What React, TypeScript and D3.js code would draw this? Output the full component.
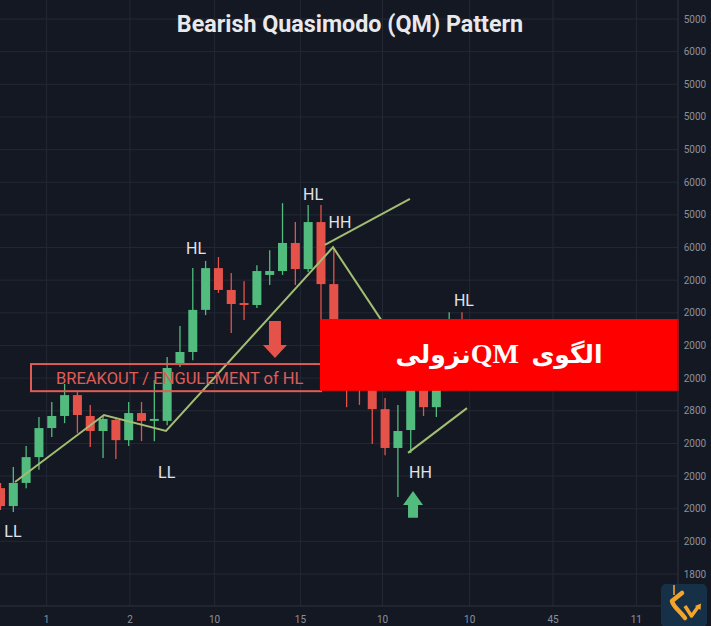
import * as d3 from "d3";

const WIDTH = 711;
const HEIGHT = 626;

// candles, one per bar (price units of the hidden scale)
const opens = [2063, 2008, 2079, 2158, 2247, 2284, 2348, 2284, 2238, 2272, 2210, 2293, 2269, 2269, 2446, 2480, 2609, 2737, 2670, 2630, 2624, 2716, 2728, 2814, 2734, 2878, 2688, 2532, 2419, 2385, 2305, 2186, 2241, 2379, 2311, 2379, 2532];
const highs = [2079, 2128, 2192, 2281, 2327, 2382, 2357, 2318, 2287, 2281, 2327, 2327, 2394, 2465, 2560, 2737, 2759, 2771, 2722, 2697, 2746, 2792, 2936, 2878, 2930, 2930, 2798, 2563, 2455, 2409, 2339, 2318, 2455, 2425, 2409, 2602, 2602];
const lows = [1996, 1990, 2063, 2119, 2220, 2262, 2232, 2189, 2155, 2152, 2192, 2207, 2207, 2256, 2434, 2455, 2593, 2661, 2538, 2578, 2615, 2685, 2716, 2685, 2725, 2572, 2501, 2311, 2318, 2198, 2164, 2036, 2171, 2284, 2281, 2370, 2394];
const closes = [2008, 2079, 2158, 2247, 2284, 2348, 2287, 2238, 2275, 2210, 2293, 2269, 2275, 2431, 2480, 2609, 2737, 2670, 2627, 2624, 2728, 2728, 2814, 2734, 2878, 2688, 2532, 2409, 2376, 2305, 2186, 2238, 2419, 2311, 2379, 2517, 2455];

// axis ticks
const priceTicks = d3.range(3500, 1799, -100);
const priceLabels = ["5000", "6000", "5000", "5000", "5000", "6000", "5000", "6000", "2000", "2000", "2000", "2000", "2800", "2000", "2000", "2000", "2000", "1800"];
const timeTicks = [3.6, 10.1, 16.7, 23.4, 29.8, 36.6, 43.1, 49.6];
const timeLabels = ["1", "2", "10", "15", "10", "10", "45", "11"];

// drawn trend lines: [bar index, price]
const riseLine: [number, number][] = [[1.13, 2082], [8.07, 2287], [12.91, 2238], [25.94, 2801], [31.0, 2501]];
const upperLine: [number, number][] = [[25.3, 2808], [31.94, 2949]];
const lowerLine: [number, number][] = [[31.79, 2171], [36.39, 2308]];

// swing labels
const swingText = ["LL", "LL", "HL", "HL", "HH", "HL", "HH"];
const swingIdx = [0.97, 12.96, 15.25, 24.38, 26.48, 36.15, 32.76];
const swingPrice = [1929, 2112, 2798, 2964, 2878, 2639, 2112];

const COLORS = {
  bg: "#141823",
  grid: "#232835",
  axis: "#2e3340",
  tick: "#8c909b",
  up: "#51bc7d",
  down: "#e5524a",
  trend: "#a3bd72",
  label: "#e1e3ea",
  breakout: "#e05d57",
};

const x = d3.scaleLinear().domain([0, 52.85]).range([0.5, 678]);
const y = d3.scaleLinear().domain([1800, 3500]).range([574, 19]);
const trend = d3
  .line<[number, number]>()
  .x((d) => x(d[0]))
  .y((d) => y(d[1]));

const PLOT_RIGHT = 678;
const PLOT_BOTTOM = 606;
const BANNER_LEFT = 24.92; // bar index where the red banner starts

function Arrow({ idx, from, to, head, shaft, color }) {
  // from = tail price, to = tip price
  const cx = x(idx);
  const y0 = y(from);
  const y1 = y(to);
  const dir = y1 > y0 ? 1 : -1;
  const yh = y1 - dir * head;
  const pts = [
    [cx - shaft / 2, y0],
    [cx + shaft / 2, y0],
    [cx + shaft / 2, yh],
    [cx + shaft, yh],
    [cx, y1],
    [cx - shaft, yh],
    [cx - shaft / 2, yh],
  ];
  return <polygon points={pts.map((p) => p.join(",")).join(" ")} fill={color} />;
}

export default function App() {
  const bw = 9;
  return (
    <div style={{ position: "fixed", left: 0, top: 0 }}>
      <svg width={WIDTH} height={HEIGHT} style={{ display: "block" }}>
        <rect width={WIDTH} height={HEIGHT} fill={COLORS.bg} />

        {/* grid */}
        {priceTicks.map((p) => (
          <line key={"h" + p} x1={0} x2={PLOT_RIGHT} y1={y(p)} y2={y(p)} stroke={COLORS.grid} strokeWidth={1} />
        ))}
        {timeTicks.map((t) => (
          <line key={"v" + t} x1={x(t)} x2={x(t)} y1={0} y2={PLOT_BOTTOM} stroke={COLORS.grid} strokeWidth={1} />
        ))}

        {/* candles */}
        {opens.map((o, i) => {
          const c = closes[i];
          const col = c >= o ? COLORS.up : COLORS.down;
          const cx = x(i);
          const top = y(Math.max(o, c));
          const bot = y(Math.min(o, c));
          return (
            <g key={i}>
              <line x1={cx} x2={cx} y1={y(highs[i])} y2={y(lows[i])} stroke={col} strokeWidth={1.3} />
              <rect x={cx - bw / 2} y={top} width={bw} height={Math.max(1.5, bot - top)} fill={col} />
            </g>
          );
        })}

        {/* trend lines */}
        {[riseLine, upperLine, lowerLine].map((l, k) => (
          <path key={k} d={trend(l)} fill="none" stroke={COLORS.trend} strokeWidth={2} />
        ))}

        {/* breakout box */}
        <rect
          x={x(2.38)}
          y={y(2443)}
          width={x(BANNER_LEFT) + 1 - x(2.38)}
          height={y(2360) - y(2443)}
          fill="none"
          stroke={COLORS.breakout}
          strokeWidth={2}
        />
        <text x={x(4.33)} y={y(2400) + 6} fill={COLORS.breakout} fontFamily="Roboto, sans-serif" fontSize={16.5}>
          BREAKOUT / ENGULEMENT of HL
        </text>

        {/* swing labels */}
        {swingText.map((t, i) => (
          <text
            key={"s" + i}
            x={x(swingIdx[i])}
            y={y(swingPrice[i]) + 5.6}
            textAnchor="middle"
            fill={COLORS.label}
            fontFamily="Roboto, sans-serif"
            fontSize={16}
          >
            {t}
          </text>
        ))}

        {/* arrows */}
        <Arrow idx={21.41} from={2575} to={2462} head={13} shaft={12} color={COLORS.down} />
        <Arrow idx={32.18} from={1972} to={2054} head={14} shaft={10} color={COLORS.up} />

        {/* red banner */}
        <rect
          x={x(BANNER_LEFT)}
          y={y(2581)}
          width={PLOT_RIGHT + 1 - x(BANNER_LEFT)}
          height={y(2361) - y(2581)}
          fill="#ff0000"
        />
        <text
          x={(x(BANNER_LEFT) + PLOT_RIGHT) / 2}
          y={y(2471) + 8}
          textAnchor="middle"
          direction="rtl"
          fill="#ffffff"
          fontFamily="'Liberation Serif', 'DejaVu Sans', serif"
          fontWeight="bold"
          fontSize={25}
        >
          {"الگوی\u00A0\u00A0"}
          <tspan fontSize={28}>QM</tspan>
          {"نزولی"}
        </text>

        {/* axes */}
        <line x1={PLOT_RIGHT} x2={PLOT_RIGHT} y1={0} y2={HEIGHT} stroke={COLORS.axis} strokeWidth={1} />
        <line x1={0} x2={PLOT_RIGHT} y1={PLOT_BOTTOM} y2={PLOT_BOTTOM} stroke={COLORS.axis} strokeWidth={1} />
        {priceTicks.map((p, i) => (
          <text
            key={"pl" + p}
            x={695}
            y={y(p) + 3.5}
            textAnchor="middle"
            fill={COLORS.tick}
            fontFamily="Roboto, sans-serif"
            fontSize={10}
          >
            {priceLabels[i]}
          </text>
        ))}
        {timeTicks.map((t, i) => (
          <text
            key={"tl" + t}
            x={x(t)}
            y={623}
            textAnchor="middle"
            fill={COLORS.tick}
            fontFamily="Roboto, sans-serif"
            fontSize={10}
          >
            {timeLabels[i]}
          </text>
        ))}

        {/* title */}
        <text
          x={350}
          y={32}
          textAnchor="middle"
          fill="#e8e9ec"
          fontFamily="Roboto, sans-serif"
          fontWeight="bold"
          fontSize={23.3}
        >
          Bearish Quasimodo (QM) Pattern
        </text>

        {/* logo */}
        <g transform="translate(661,584)">
          <rect width={46} height={43} rx={5} fill="#163048" />
          <path d="M13 1 V11" stroke="#f3a52b" strokeWidth={1.6} fill="none" />
          <path d="M21 9 L11 17 Q12 21 17 26 Q21 30 24 34" stroke="#f3a52b" strokeWidth={4.5} fill="none" strokeLinecap="round" strokeLinejoin="round" />
          <path d="M24 22 L30.5 32 L37 23" stroke="#f3a52b" strokeWidth={3.5} fill="none" strokeLinejoin="round" />
          <path d="M34 22 L40 19.5 L39.5 26 Z" fill="#f3a52b" />
        </g>
      </svg>
    </div>
  );
}
